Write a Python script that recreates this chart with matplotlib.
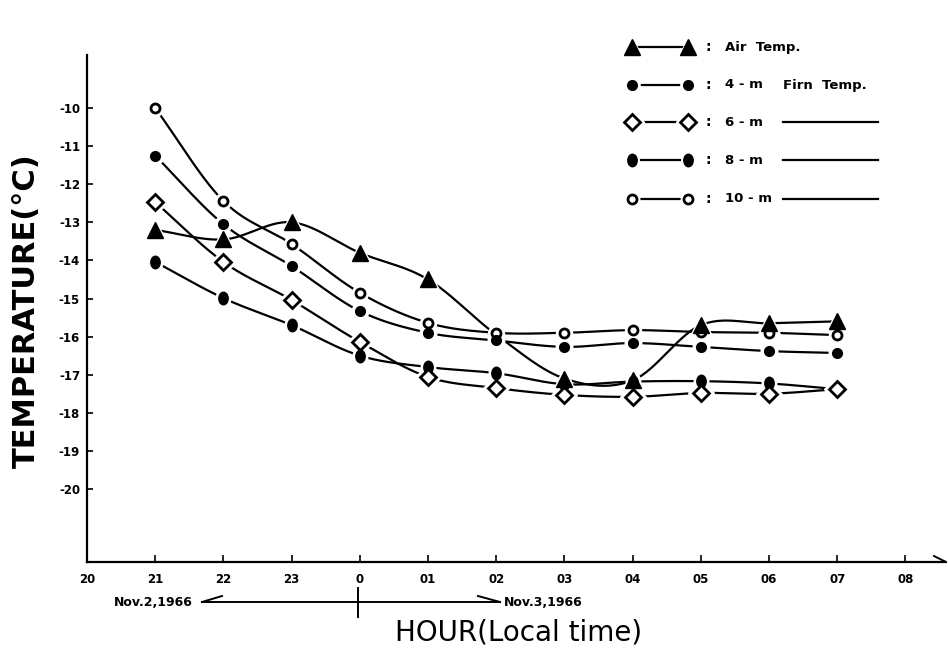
import numpy as np
import matplotlib
matplotlib.use("Agg")
import matplotlib.pyplot as plt
from matplotlib.path import Path
from matplotlib.transforms import Affine2D

# hours after 20h on Nov. 2, 1966 (24 = 0h Nov. 3)
hours = [21, 22, 23, 24, 25, 26, 27, 28, 29, 30, 31]
hour_ticks = list(range(20, 33))
hour_labels = ["20", "21", "22", "23", "0", "01", "02", "03", "04", "05", "06", "07", "08"]
temp_ticks = list(range(-10, -21, -1))

air = [-13.2, -13.45, -13.0, -13.8, -14.5, -15.95, -17.1, -17.15, -15.7, -15.65, -15.6]
air_marked = [0, 1, 2, 3, 4, 6, 7, 8, 9, 10]
firn4 = [-11.25, -13.05, -14.15, -15.33, -15.9, -16.1, -16.27, -16.17, -16.27, -16.38, -16.43]
firn6 = [-12.47, -14.04, -15.04, -16.14, -17.06, -17.35, -17.53, -17.58, -17.48, -17.5, -17.38]
firn8 = [-14.04, -14.99, -15.7, -16.5, -16.8, -16.96, -17.25, -17.18, -17.17, -17.23, -17.38]
firn10 = [-10.0, -12.44, -13.57, -14.85, -15.64, -15.9, -15.9, -15.83, -15.88, -15.9, -15.96]


def smooth(x, y, n=30):
    # cubic hermite curve through the points (catmull-rom tangents)
    x = np.asarray(x, float)
    y = np.asarray(y, float)
    m = np.gradient(y, x)
    t = np.linspace(0, 1, n)
    h00 = 2*t**3 - 3*t**2 + 1
    h10 = t**3 - 2*t**2 + t
    h01 = -2*t**3 + 3*t**2
    h11 = t**3 - t**2
    xs, ys = [], []
    for i in range(len(x) - 1):
        h = x[i+1] - x[i]
        xs.append(x[i] + t*h)
        ys.append(h00*y[i] + h10*h*m[i] + h01*y[i+1] + h11*h*m[i+1])
    return np.concatenate(xs), np.concatenate(ys)


ellipse = Path.unit_circle().transformed(Affine2D().scale(0.75, 1.0))

styles = {
    "air": dict(marker="^", ms=11, mfc="black", mec="black", mew=1),
    "4": dict(marker="o", ms=7, mfc="black", mec="black", mew=1),
    "6": dict(marker="D", ms=8.5, mfc="white", mec="black", mew=2),
    "8": dict(marker=ellipse, ms=9, mfc="black", mec="black", mew=1),
    "10": dict(marker="o", ms=6.5, mfc="white", mec="black", mew=2),
}

series = [("10", firn10, None), ("4", firn4, None), ("8", firn8, None),
          ("6", firn6, None), ("air", air, air_marked)]

fig = plt.figure(figsize=(9.48, 6.48), dpi=100)
ax = fig.add_axes([87/948, (648-562)/648, 858/948, 507/648])

for key, vals, marked in series:
    sx, sy = smooth(hours, vals)
    ax.plot(sx, sy, color="black", lw=1.6, zorder=2, solid_capstyle="butt")
    st = styles[key]
    idx = marked if marked is not None else list(range(len(hours)))
    mx = [hours[i] for i in idx]
    my = [vals[i] for i in idx]
    # white halo so lines stop short of the symbols
    ax.plot(mx, my, ls="none", marker=st["marker"], ms=st["ms"] + 5,
            mfc="white", mec="white", zorder=3)
    ax.plot(mx, my, ls="none", zorder=4, **st)

ax.set_xlim(20, 20 + 858/68.2)
ax.set_ylim(-10 - 454/38.1, -10 + 53/38.1)
ax.set_xticks(hour_ticks)
ax.set_xticklabels(hour_labels, fontweight="bold", fontsize=8.5)
ax.set_yticks(temp_ticks)
ax.set_yticklabels(["%d" % v for v in temp_ticks], fontweight="bold", fontsize=8.5)
ax.tick_params(axis="x", direction="in", length=5, width=1.2, pad=8)
ax.tick_params(axis="y", direction="in", length=4, width=1.2, pad=5)
for s in ["top", "right"]:
    ax.spines[s].set_visible(False)
for s in ["left", "bottom"]:
    ax.spines[s].set_linewidth(1.6)

# overlay in pixel coordinates for the hand-drawn legend and date notes
ov = fig.add_axes([0, 0, 1, 1])
ov.set_xlim(0, 948)
ov.set_ylim(648, 0)
ov.axis("off")

# arrow barb at end of x axis
ov.plot([934, 946], [556, 562], color="black", lw=1.4)

legend_rows = [("air", "Air  Temp.", False), ("4", "4 - m", False), ("6", "6 - m", True),
               ("8", "8 - m", True), ("10", "10 - m", True)]
row_y = [47, 85, 122, 160, 199]
for (key, label, tail), y in zip(legend_rows, row_y):
    st = styles[key]
    ov.plot([632, 688], [y, y], color="black", lw=1.6, zorder=2)
    ov.plot([632, 688], [y, y], ls="none", marker=st["marker"], ms=st["ms"] + 4,
            mfc="white", mec="white", zorder=3)
    ov.plot([632, 688], [y, y], ls="none", zorder=4, **st)
    ov.text(708, y, ":", fontsize=10, fontweight="bold", va="center", ha="center")
    ov.text(725, y, label, fontsize=9.5, fontweight="bold", va="center", ha="left")
    if tail:
        ov.plot([783, 878], [y, y], color="black", lw=1.6)
ov.text(783, row_y[1], "Firn  Temp.", fontsize=9.5, fontweight="bold", va="center", ha="left")

# date arrows below the axis
ov.plot([202, 500], [602, 602], color="black", lw=1.4)
ov.plot([202, 222], [602, 596], color="black", lw=1.4)
ov.plot([500, 478], [602, 596], color="black", lw=1.4)
ov.plot([358, 358], [588, 617], color="black", lw=1.4)
ov.text(193, 602, "Nov.2,1966", fontsize=9, fontweight="bold", va="center", ha="right")
ov.text(504, 602, "Nov.3,1966", fontsize=9, fontweight="bold", va="center", ha="left")

ov.text(26, 311, "TEMPERATURE(°C)", fontsize=22, fontweight="bold", rotation=90,
        va="center", ha="center")
ov.text(519, 632, "HOUR(Local time)", fontsize=20, va="center", ha="center")

fig.savefig("out.png", dpi=100)
